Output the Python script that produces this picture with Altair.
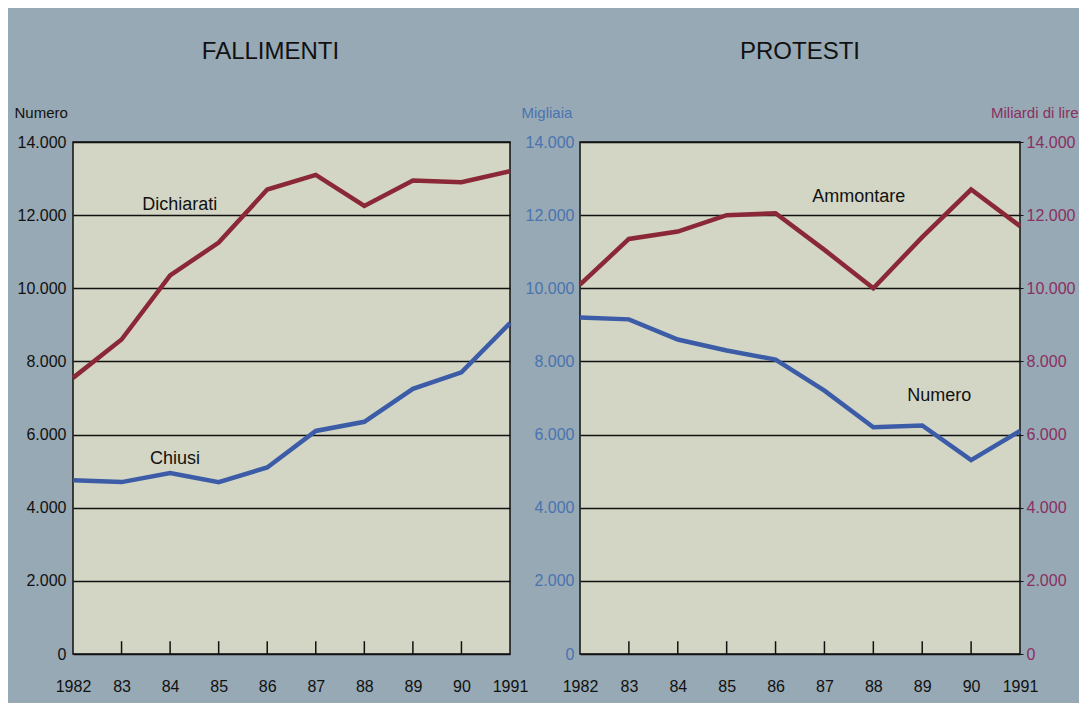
import altair as alt
import pandas as pd

years = [1982, 1983, 1984, 1985, 1986, 1987, 1988, 1989, 1990, 1991]
dichiarati = [7550, 8600, 10350, 11250, 12700, 13100, 12250, 12950, 12900, 13200]
chiusi = [4750, 4700, 4950, 4700, 5100, 6100, 6350, 7250, 7700, 9050]
protesti_numero = [9200, 9150, 8600, 8300, 8050, 7200, 6200, 6250, 5300, 6100]
protesti_ammontare = [10100, 11350, 11550, 12000, 12050, 11050, 10000, 11400, 12700, 11700]
y_ticks = [0, 2000, 4000, 6000, 8000, 10000, 12000, 14000]
tick_years = [1983, 1984, 1985, 1986, 1987, 1988, 1989, 1990]

RED = "#8a2838"
BLUE = "#3c5ca8"
BLUE_TXT = "#4a73b0"
PURPLE_TXT = "#8a2f62"
BG = "#97a9b4"
FILL = "#d3d6c4"
FONT = "Liberation Sans"

W_L, W_R, H = 437, 440, 512

num_expr = "replace(format(datum.value, ','), ',', '.')"
year_expr = "datum.value == 1982 || datum.value == 1991 ? toString(datum.value) : substring(toString(datum.value), 2, 4)"

xscale = alt.Scale(domain=[1982, 1991], nice=False, zero=False)
yscale = alt.Scale(domain=[0, 14000], nice=False)

x_axis = alt.Axis(values=years, labelExpr=year_expr, grid=False, ticks=False, domain=False,
                  labelFont=FONT, labelFontSize=16, labelColor="#111", labelPadding=24,
                  title=None, labelFlush=False)


def y_axis(title, color, orient="left", tx=-59, talign="left", pad=7):
    return alt.Axis(values=y_ticks, labelExpr=num_expr, grid=(orient == "left"),
                    gridColor="#111", gridWidth=1.4, ticks=(orient == "right"), tickSize=3,
                    tickColor="#111", domain=False, orient=orient,
                    labelFont=FONT, labelFontSize=16, labelColor=color, labelPadding=pad,
                    title=title, titleAngle=0, titleAlign=talign, titleBaseline="bottom",
                    titleX=tx, titleY=-22, titleFont=FONT, titleFontSize=15,
                    titleFontWeight="normal", titleColor=color)


# ---------- left panel ----------
left_df = pd.DataFrame({
    "year": years * 2,
    "value": dichiarati + chiusi,
    "series": ["Dichiarati"] * 10 + ["Chiusi"] * 10,
})
left_lab = pd.DataFrame({"year": [1984.2, 1984.1], "value": [12270, 5340],
                         "label": ["Dichiarati", "Chiusi"]})
tick_df = pd.DataFrame({"year": tick_years, "value": [0] * 8, "top": [350] * 8})

ax_left = y_axis("Numero", "#111")

l_lines = alt.Chart(left_df).mark_line(strokeWidth=4.5).encode(
    x=alt.X("year:Q", scale=xscale, axis=x_axis),
    y=alt.Y("value:Q", scale=yscale, axis=ax_left),
    color=alt.Color("series:N", scale=alt.Scale(domain=["Dichiarati", "Chiusi"], range=[RED, BLUE]),
                    legend=None),
)
l_ticks = alt.Chart(tick_df).mark_rule(color="#111", strokeWidth=1.5).encode(
    x=alt.X("year:Q", scale=xscale, axis=x_axis),
    y=alt.Y("value:Q", scale=yscale, axis=ax_left),
    y2="top:Q",
)
l_text = alt.Chart(left_lab).mark_text(font=FONT, fontSize=18, color="#111").encode(
    x=alt.X("year:Q", scale=xscale, axis=x_axis),
    y=alt.Y("value:Q", scale=yscale, axis=ax_left),
    text="label:N",
)
left = alt.layer(l_ticks, l_lines, l_text).properties(
    width=W_L, height=H,
    title=alt.TitleParams("FALLIMENTI", font=FONT, fontSize=24, fontWeight="normal",
                          color="#111", offset=41, anchor="middle", dx=-21),
)

# ---------- right panel ----------
num_df = pd.DataFrame({"year": years, "value": protesti_numero})
amm_df = pd.DataFrame({"year": years, "value": protesti_ammontare})
num_lab = pd.DataFrame({"year": [1989.35], "value": [7065], "label": ["Numero"]})
amm_lab = pd.DataFrame({"year": [1987.7], "value": [12500], "label": ["Ammontare"]})

ax_rl = y_axis("Migliaia", BLUE_TXT, pad=6)
ax_rr = y_axis("Miliardi di lire", PURPLE_TXT, orient="right", tx=58, talign="right", pad=3)

r_ticks = alt.Chart(tick_df).mark_rule(color="#111", strokeWidth=1.5).encode(
    x=alt.X("year:Q", scale=xscale, axis=x_axis),
    y=alt.Y("value:Q", scale=yscale, axis=ax_rl),
    y2="top:Q",
)
r_num = alt.Chart(num_df).mark_line(strokeWidth=4.5, color=BLUE).encode(
    x=alt.X("year:Q", scale=xscale, axis=x_axis),
    y=alt.Y("value:Q", scale=yscale, axis=ax_rl),
)
r_num_t = alt.Chart(num_lab).mark_text(font=FONT, fontSize=18, color="#111").encode(
    x=alt.X("year:Q", scale=xscale, axis=x_axis),
    y=alt.Y("value:Q", scale=yscale, axis=ax_rl),
    text="label:N",
)
r_amm = alt.Chart(amm_df).mark_line(strokeWidth=4.5, color=RED).encode(
    x=alt.X("year:Q", scale=xscale, axis=x_axis),
    y=alt.Y("value:Q", scale=yscale, axis=ax_rr),
)
r_amm_t = alt.Chart(amm_lab).mark_text(font=FONT, fontSize=18, color="#111").encode(
    x=alt.X("year:Q", scale=xscale, axis=x_axis),
    y=alt.Y("value:Q", scale=yscale, axis=ax_rr),
    text="label:N",
)
right = alt.layer(
    alt.layer(r_ticks, r_num, r_num_t),
    alt.layer(r_amm, r_amm_t),
).resolve_scale(y="independent").properties(
    width=W_R, height=H,
    title=alt.TitleParams("PROTESTI", font=FONT, fontSize=24, fontWeight="normal",
                          color="#111", offset=41, anchor="middle"),
)

chart = alt.hconcat(left, right, spacing=70, bounds="flush").properties(
    background=BG,
    padding={"left": 5, "top": 31, "right": 0, "bottom": 8},
).configure_view(
    fill=FILL, stroke="#111", strokeWidth=1.5,
)

chart.save("out.html", embed_options={"renderer": "svg", "actions": False})
